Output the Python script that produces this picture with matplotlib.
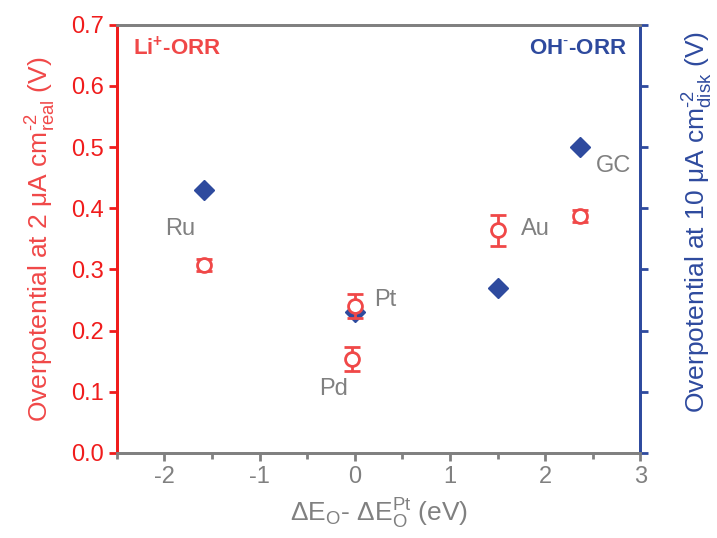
import matplotlib
matplotlib.use("Agg")
import matplotlib.pyplot as plt

plt.rcParams['font.family'] = ['Liberation Sans', 'DejaVu Sans']
plt.rcParams['mathtext.fontset'] = 'custom'
plt.rcParams['mathtext.rm'] = 'Liberation Sans'
plt.rcParams['mathtext.it'] = 'Liberation Sans'
plt.rcParams['mathtext.bf'] = 'Liberation Sans:bold'
plt.rcParams['axes.unicode_minus'] = False

# Li+-ORR (left axis), open red circles with error bars
li_names = ['Ru', 'Pt', 'Pd', 'Au', 'GC']
li_x = [-1.58, 0.0, -0.03, 1.5, 2.37]
li_y = [0.307, 0.240, 0.154, 0.364, 0.388]
li_err = [0.010, 0.020, 0.020, 0.025, 0.010]

# OH--ORR (right axis), filled blue diamonds
oh_names = ['Ru', 'Pt', 'Au', 'GC']
oh_x = [-1.58, 0.0, 1.5, 2.37]
oh_y = [0.430, 0.230, 0.270, 0.500]

# element labels
lab_names = ['Ru', 'Pt', 'Pd', 'Au', 'GC']
lab_x = [-1.83, 0.32, -0.22, 1.9, 2.72]
lab_y = [0.366, 0.250, 0.105, 0.366, 0.469]

red = '#f01c1c'
red_m = '#f04848'
blue = '#2e4a9e'
gray = '#808080'

fig = plt.figure(figsize=(7.17, 5.38), dpi=100)
ax = fig.add_axes([0.163, 0.158, 0.730, 0.796])
ax2 = ax.twinx()

ax2.plot(oh_x, oh_y, 'D', color=blue, markersize=10, zorder=3)
ax.set_zorder(ax2.get_zorder() + 1)
ax.patch.set_visible(False)
ax.errorbar(li_x, li_y, yerr=li_err, fmt='o', mfc='white', mec=red_m,
            ecolor=red_m, ms=10, mew=2, elinewidth=2, capsize=6, capthick=2, zorder=4)

for n, x, y in zip(lab_names, lab_x, lab_y):
    ax.text(x, y, n, color=gray, fontsize=17, ha='center', va='center')

ax.set_xlim(-2.5, 3)
ax.set_ylim(0, 0.7)
ax2.set_ylim(0, 0.7)
ax.set_xticks([-2, -1, 0, 1, 2, 3])
ax.set_xticks([-2.5, -1.5, -0.5, 0.5, 1.5, 2.5], minor=True)
ax.set_yticks([0.0, 0.1, 0.2, 0.3, 0.4, 0.5, 0.6, 0.7])
ax.set_yticklabels(['0.0', '0.1', '0.2', '0.3', '0.4', '0.5', '0.6', '0.7'])
ax2.set_yticks([0.0, 0.1, 0.2, 0.3, 0.4, 0.5, 0.6, 0.7])
ax2.set_yticklabels([])

for a in (ax, ax2):
    for s in a.spines.values():
        s.set_linewidth(2)
    a.spines['top'].set_color(gray)
    a.spines['bottom'].set_color(gray)
ax.spines['left'].set_color(red)
ax2.spines['left'].set_color(red)
ax.spines['right'].set_color(blue)
ax2.spines['right'].set_color(blue)

ax.tick_params(axis='x', which='both', direction='out', width=2, color=gray,
               labelcolor=gray, labelsize=17)
ax.tick_params(axis='x', which='major', length=6)
ax.tick_params(axis='x', which='minor', length=4)
ax.tick_params(axis='y', direction='out', width=2, length=6, color=red,
               labelcolor=red, labelsize=17)
ax2.tick_params(axis='y', direction='out', width=2, length=6, color=blue)

ax.set_xlabel(r'$\Delta$E$_{\mathrm{O}}$- $\Delta$E$_{\mathrm{O}}^{\mathrm{Pt}}$ (eV)',
              color=gray, fontsize=19, labelpad=6)
ax.set_ylabel(r'Overpotential at 2 $\mu$A cm$^{\text{-}2}_{\mathrm{real}}$ (V)',
              color=red_m, fontsize=19, labelpad=9)
ax2.set_ylabel(r'Overpotential at 10 $\mu$A cm$^{\text{-}2}_{\mathrm{disk}}$ (V)',
               color=blue, fontsize=19)
ax2.yaxis.set_label_coords(1.078, 0.54)

ax.text(0.03, 0.945, r'Li$^{\mathbf{+}}$-ORR', transform=ax.transAxes, color=red_m,
        fontsize=16, fontweight='bold', ha='left', va='center')
ax.text(0.975, 0.945, r'OH$^{\mathbf{\text{-}}}$-ORR', transform=ax.transAxes, color=blue,
        fontsize=16, fontweight='bold', ha='right', va='center')

fig.savefig('out.png', dpi=100)
